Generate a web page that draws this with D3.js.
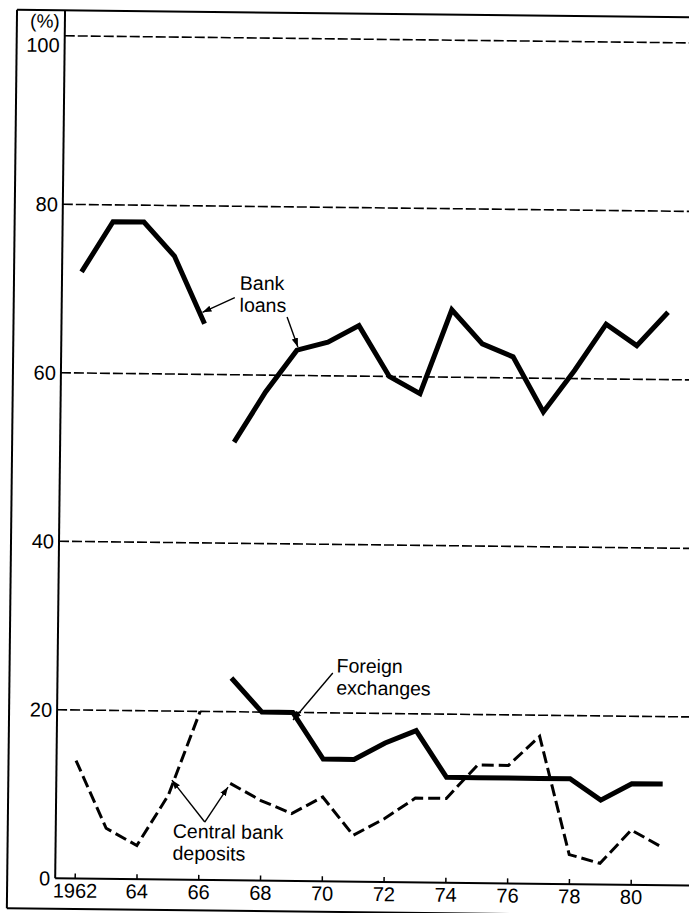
<!DOCTYPE html>
<html>
<head>
<meta charset="utf-8">
<script src="https://cdn.jsdelivr.net/npm/d3@7/dist/d3.min.js"></script>
<style>
  html, body { margin: 0; padding: 0; background: #fff; }
  svg { display: block; }
</style>
</head>
<body>
<div id="chart"></div>
<script>
// Years covered by the three series
const years = [1962, 1963, 1964, 1965, 1966, 1967, 1968, 1969, 1970, 1971,
               1972, 1973, 1974, 1975, 1976, 1977, 1978, 1979, 1980, 1981]

// Shares in percent (null = no value)
const bankLoans = [72, 78, 78, 74, 66, 52, 58, 63, 64, 66,
                   60, 58, 68, 64, 62.5, 56, 61, 66.5, 64, 68]
const foreignExchanges = [null, null, null, null, null, 24, 20, 20, 14.5, 14.5,
                          16.5, 18, 12.5, 12.5, 12.5, 12.5, 12.5, 10, 12, 12]
const centralBankDeposits = [14, 6, 4, 10, 20, 11.5, 9.5, 8, 10, 5.5,
                             7.5, 10, 10, 14, 14, 17.5, 3.5, 2.5, 6.5, 4.5]

// the series are broken between these years (change of statistics)
const breakAfter = 1966

// Axis ticks
const xTickYears = [1962, 1964, 1966, 1968, 1970, 1972, 1974, 1976, 1978, 1980]
const xTickLabels = ['1962', '64', '66', '68', '70', '72', '74', '76', '78', '80']
const yTicks = [0, 20, 40, 60, 80, 100]
const yGrid = [20, 40, 60, 80, 100]

// Callouts, anchored in (year, %) units
const callouts = [
  { lines: ['Bank', 'loans'], year: 1967.13, value: 70.1 },
  { lines: ['Foreign', 'exchanges'], year: 1970.40, value: 24.8 },
  { lines: ['Central bank', 'deposits'], year: 1965.16, value: 4.95 }
]
const pointers = [
  [[1966.97, 69.14], [1965.93, 67.36]],
  [[1968.67, 66.92], [1969.03, 63.38]],
  [[1970.28, 24.74], [1969.01, 19.10]],
  [[1966.19, 6.87], [1965.11, 11.81]],
  [[1966.19, 6.87], [1966.93, 11.06]]
]

const W = 689, H = 913
const axisX = 60        // inner y-axis line
const frameTop = 13.5
const frameLeft = 12
const font = 'Liberation Sans, Arial, Helvetica, sans-serif'

const svg = d3.select('#chart').append('svg')
  .attr('width', W).attr('height', H)
  .style('background', '#fff')

// the printed page was scanned slightly skewed
const g = svg.append('g').attr('transform', 'rotate(0.65, 345, 456)')

const x = d3.scaleLinear().domain([1962, 1980]).range([79.5, 635.5])
const y = d3.scaleLinear().domain([0, 100]).range([881.5, 39])

// Frame
g.append('line').attr('x1', frameLeft).attr('x2', W + 20).attr('y1', frameTop).attr('y2', frameTop)
  .attr('stroke', '#000').attr('stroke-width', 2)
g.append('line').attr('x1', frameLeft).attr('x2', frameLeft).attr('y1', frameTop).attr('y2', 912)
  .attr('stroke', '#000').attr('stroke-width', 2)
g.append('line').attr('x1', frameLeft).attr('x2', W + 20).attr('y1', 912).attr('y2', 912)
  .attr('stroke', '#000').attr('stroke-width', 2)
g.append('line').attr('x1', axisX).attr('x2', axisX).attr('y1', frameTop).attr('y2', y(0))
  .attr('stroke', '#000').attr('stroke-width', 2)

// Dashed grid lines
g.append('g').selectAll('line').data(yGrid).join('line')
  .attr('x1', axisX).attr('x2', W + 20)
  .attr('y1', d => y(d)).attr('y2', d => y(d))
  .attr('stroke', '#000').attr('stroke-width', 1.6)
  .attr('stroke-dasharray', '10,3')

// X axis
g.append('line').attr('x1', axisX).attr('x2', W + 20).attr('y1', y(0)).attr('y2', y(0))
  .attr('stroke', '#000').attr('stroke-width', 2)
const gx = g.append('g')
  .attr('transform', `translate(0,${y(0)})`)
  .call(d3.axisBottom(x).tickValues(xTickYears)
    .tickFormat((d, i) => xTickLabels[i])
    .tickSizeInner(-5).tickSizeOuter(0).tickPadding(5))
gx.select('.domain').remove()
gx.selectAll('.tick line').attr('stroke', '#000').attr('stroke-width', 1.5)
gx.selectAll('.tick text').style('font-family', font).style('font-size', '20px').attr('fill', '#000')

// Y axis labels
const gy = g.append('g')
  .attr('transform', `translate(${axisX},0)`)
  .call(d3.axisLeft(y).tickValues(yTicks).tickSize(0).tickPadding(5))
gy.select('.domain').remove()
gy.selectAll('.tick text').style('font-family', font).style('font-size', '20px').attr('fill', '#000')
  .attr('dy', d => d === 100 ? '0.8em' : '0.33em')

g.append('text')
  .attr('x', 40).attr('y', 31)
  .attr('text-anchor', 'middle')
  .style('font-family', font).style('font-size', '19px')
  .text('(%)')

// split a series into its two runs around the break
function runs(values) {
  const pts = years.map((yr, i) => [yr, values[i]]).filter(d => d[1] != null)
  return [pts.filter(d => d[0] <= breakAfter), pts.filter(d => d[0] > breakAfter)]
    .filter(r => r.length > 1)
}

const line = d3.line().x(d => x(d[0])).y(d => y(d[1]))

// Bank loans and foreign exchanges: thick solid
g.append('g').selectAll('path').data(runs(bankLoans).concat(runs(foreignExchanges))).join('path')
  .attr('d', line)
  .attr('fill', 'none').attr('stroke', '#000').attr('stroke-width', 5)
  .attr('stroke-linejoin', 'miter').attr('stroke-miterlimit', 3)

// Central bank deposits: dashed
g.append('g').selectAll('path').data(runs(centralBankDeposits)).join('path')
  .attr('d', line)
  .attr('fill', 'none').attr('stroke', '#000').attr('stroke-width', 3)
  .attr('stroke-dasharray', '12,5')

// Callouts
svg.append('defs').append('marker')
  .attr('id', 'head')
  .attr('viewBox', '0 -4 9 8')
  .attr('refX', 9).attr('refY', 0)
  .attr('markerUnits', 'userSpaceOnUse')
  .attr('markerWidth', 9).attr('markerHeight', 8)
  .attr('orient', 'auto')
  .append('path').attr('d', 'M0,-3.2L9,0L0,3.2Z').attr('fill', '#000')

g.append('g').selectAll('line').data(pointers).join('line')
  .attr('x1', d => x(d[0][0])).attr('y1', d => y(d[0][1]))
  .attr('x2', d => x(d[1][0])).attr('y2', d => y(d[1][1]))
  .attr('stroke', '#000').attr('stroke-width', 1.4)
  .attr('marker-end', 'url(#head)')

// each callout line is its own text element
const callG = g.append('g').selectAll('g').data(callouts).join('g')
  .attr('transform', d => `translate(${x(d.year)},${y(d.value)})`)
callG.selectAll('text').data(d => d.lines).join('text')
  .attr('x', 0).attr('y', (d, i) => i * 22)
  .style('font-family', font).style('font-size', '19.5px').attr('fill', '#000')
  .text(d => d)
</script>
</body>
</html>
